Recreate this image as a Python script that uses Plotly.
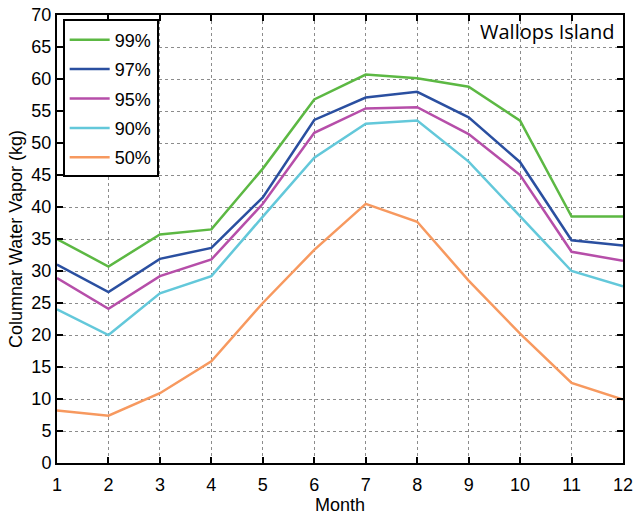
import plotly.graph_objects as go

months = list(range(1, 13))
p99 = [35.0, 30.7, 35.7, 36.5, 46.0, 56.8, 60.7, 60.1, 58.8, 53.5, 38.5, 38.5]
p97 = [31.0, 26.7, 31.9, 33.6, 41.5, 53.6, 57.1, 58.0, 54.0, 47.0, 34.8, 34.0]
p95 = [28.9, 24.1, 29.2, 31.8, 40.5, 51.6, 55.4, 55.6, 51.4, 45.0, 33.0, 31.6]
p90 = [24.0, 20.0, 26.5, 29.2, 38.5, 47.7, 53.0, 53.5, 47.1, 38.5, 30.0, 27.6]
p50 = [8.2, 7.4, 10.9, 15.9, 25.0, 33.3, 40.5, 37.7, 28.5, 20.2, 12.5, 9.9]

series = [
    ("99%", p99, "#5cb843"),
    ("97%", p97, "#2a4fa0"),
    ("95%", p95, "#b64ea9"),
    ("90%", p90, "#63c8da"),
    ("50%", p50, "#f7995f"),
]

fig = go.Figure()
for name, vals, color in series:
    fig.add_trace(go.Scatter(x=months, y=vals, mode="lines", name=name,
                             legendgroup=name,
                             line=dict(color=color, width=2.5)))

axis_common = dict(
    showline=True, linecolor="black", linewidth=2, mirror="ticks",
    ticks="inside", ticklen=6, tickwidth=2, tickcolor="black",
    showgrid=True, gridcolor="#8c8c8c", griddash="dot", gridwidth=1,
    zeroline=False, tickfont=dict(size=18, color="black"),
    automargin=False,
)

fig.update_xaxes(range=[1, 12], dtick=1, ticklabelstandoff=4,
                 title=dict(text="Month", font=dict(size=18, color="black"), standoff=4),
                 **axis_common)
fig.update_yaxes(range=[0, 70], dtick=5,
                 title=dict(text="Columnar Water Vapor (kg)", font=dict(size=18, color="black"), standoff=4),
                 **axis_common)

fig.add_annotation(x=0.988, y=0.998, xref="paper", yref="paper", xanchor="right", yanchor="top",
                   text="Wallops Island", showarrow=False,
                   font=dict(family="Open Sans, sans-serif", size=20, color="black"))

fig.update_layout(
    width=641, height=516,
    margin=dict(l=57, r=18, t=15, b=53),
    paper_bgcolor="white", plot_bgcolor="white",
    font=dict(family="Liberation Sans, Arial, sans-serif", color="black"),
    legend=dict(x=0.01, y=0.99, xanchor="left", yanchor="top",
                bordercolor="black", borderwidth=2, bgcolor="white",
                font=dict(size=18, color="black"),
                traceorder="grouped", tracegroupgap=3,
                itemwidth=40),
    showlegend=True,
)

fig.write_html("out.html")
